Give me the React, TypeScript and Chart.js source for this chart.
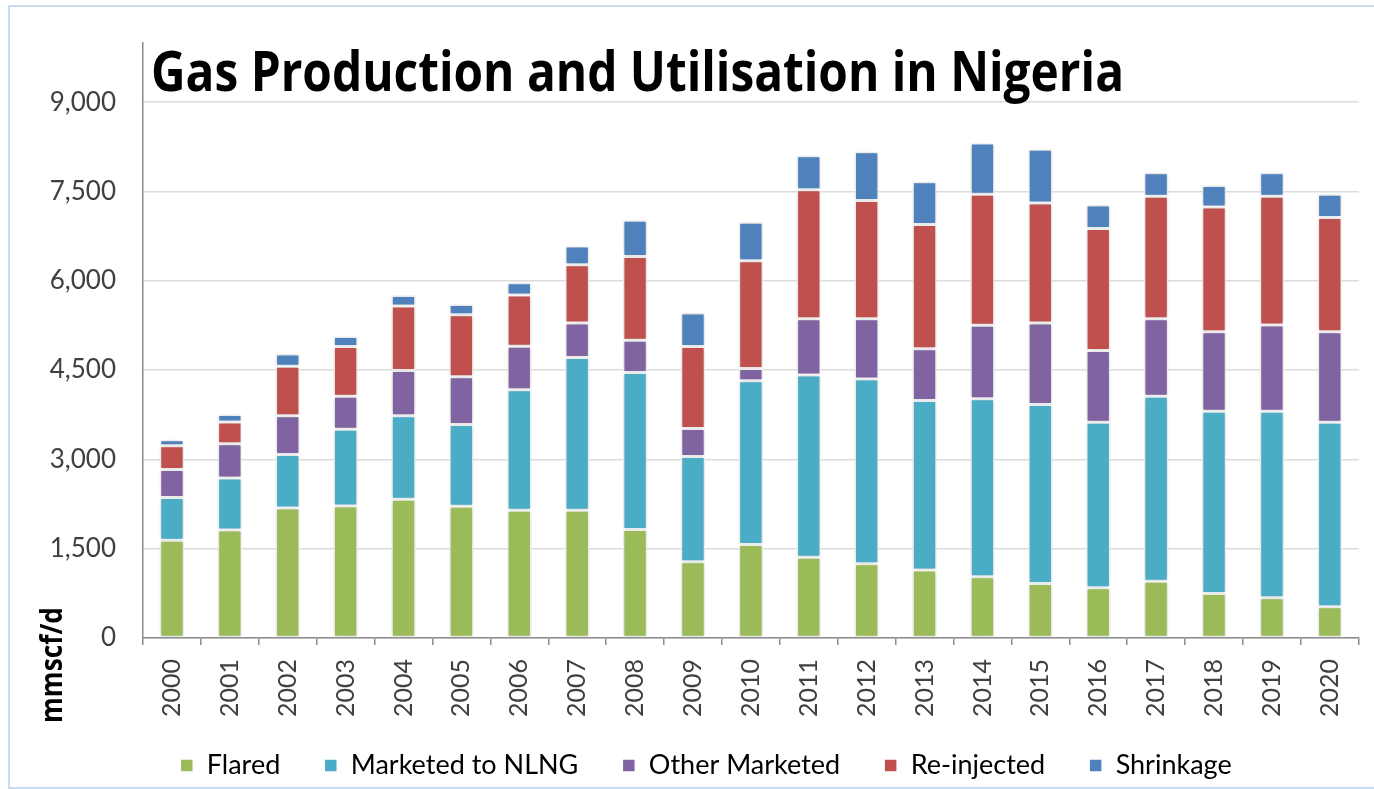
import React, { useEffect, useRef } from "react";
import { Chart, registerables } from "chart.js";

Chart.register(...registerables);

const years = ["2000","2001","2002","2003","2004","2005","2006","2007","2008","2009","2010","2011","2012","2013","2014","2015","2016","2017","2018","2019","2020"];
const flared = [1640, 1815, 2184, 2218, 2330, 2212, 2145, 2145, 1822, 1279, 1570, 1358, 1245, 1140, 1028, 916, 843, 955, 749, 676, 525];
const marketedNLNG = [720, 872, 900, 1290, 1402, 1375, 2023, 2565, 2636, 1771, 2749, 3061, 3107, 2849, 2989, 3006, 2782, 3106, 3061, 3134, 3100];
const otherMarketed = [470, 576, 648, 553, 760, 799, 731, 581, 542, 470, 206, 944, 1011, 871, 1234, 1369, 1202, 1302, 1335, 1447, 1520];
const reinjected = [400, 363, 832, 833, 1084, 1044, 861, 977, 1408, 1374, 1810, 2167, 1983, 2084, 2202, 2016, 2050, 2057, 2095, 2163, 1916];
const shrinkage = [100, 128, 207, 168, 178, 173, 207, 314, 609, 565, 649, 570, 821, 721, 860, 900, 397, 395, 358, 395, 392];

const yTickValues = [0, 1500, 3000, 4500, 6000, 7500, 9000];
const seriesNames = ["Flared", "Marketed to NLNG", "Other Marketed", "Re-injected", "Shrinkage"];
const seriesColors = ["#9BBB59", "#4BACC6", "#8064A2", "#C0504D", "#4F81BD"];
const chartTitle = "Gas Production and Utilisation in Nigeria";
const yAxisTitle = "mmscf/d";

const W = 1374;
const H = 789;

const decorPlugin = {
  id: "decor",
  afterLayout(chart: any) {
    const lg = chart.legend;
    if (lg) {
      lg.left += 23;
      lg.right += 23;
      lg.top -= 20;
    }
  },
  beforeDatasetsDraw(chart: any) {
    const ctx = chart.ctx;
    ctx.save();
    ctx.shadowColor = "rgba(0,0,0,0.22)";
    ctx.shadowBlur = 4;
    ctx.shadowOffsetX = 0;
    ctx.shadowOffsetY = 0;
  },
  afterDatasetsDraw(chart: any) {
    chart.ctx.restore();
  },
  afterDraw(chart: any) {
    const ctx = chart.ctx;
    // frame
    ctx.save();
    ctx.strokeStyle = "#B9CFEB";
    ctx.lineWidth = 1.5;
    ctx.beginPath();
    ctx.moveTo(W + 5, 6);
    ctx.lineTo(9, 6);
    ctx.lineTo(9, 788);
    ctx.lineTo(W + 5, 788);
    ctx.stroke();
    ctx.restore();

    // title
    ctx.save();
    ctx.font = "bold 56px 'Open Sans'";
    ctx.fillStyle = "#000";
    ctx.textBaseline = "alphabetic";
    ctx.textAlign = "left";
    const tw = ctx.measureText(chartTitle).width;
    const sx = 973 / tw;
    ctx.translate(151, 91);
    ctx.scale(sx, 1);
    ctx.fillText(chartTitle, 0, 0);
    ctx.restore();

    // y axis title
    ctx.save();
    ctx.font = "bold 31px 'Open Sans'";
    ctx.fillStyle = "#000";
    ctx.textBaseline = "alphabetic";
    ctx.textAlign = "center";
    const yw = ctx.measureText(yAxisTitle).width;
    ctx.translate(62, 665);
    ctx.rotate(-Math.PI / 2);
    ctx.scale(116 / yw, 1);
    ctx.fillText(yAxisTitle, 0, 0);
    ctx.restore();
  },
};

export default function App() {
  const canvasRef = useRef<HTMLCanvasElement | null>(null);

  useEffect(() => {
    document.body.style.margin = "0";
    const canvas = canvasRef.current;
    if (!canvas) return;
    const values = [flared, marketedNLNG, otherMarketed, reinjected, shrinkage];
    const chart = new Chart(canvas, {
      type: "bar",
      data: {
        labels: years,
        datasets: values.map((v, i) => ({
          label: seriesNames[i],
          data: v,
          backgroundColor: seriesColors[i],
          borderColor: "#FFFFFF",
          borderWidth: 1.5,
          borderSkipped: false,
          barPercentage: 0.42,
          categoryPercentage: 1,
        })),
      },
      options: {
        responsive: false,
        animation: false,
        devicePixelRatio: 1,
        layout: { padding: { top: 41, right: 8, bottom: 0, left: 0 } },
        plugins: {
          title: { display: false },
          tooltip: { enabled: false },
          legend: {
            display: true,
            position: "bottom",
            maxHeight: 61,
            labels: {
              boxWidth: 13,
              boxHeight: 13,
              padding: 44,
              color: "#000",
              font: { family: "Lato", size: 27 },
            },
          },
        },
        scales: {
          x: {
            stacked: true,
            afterFit: (s: any) => { s.height = 90; },
            grid: {
              display: true,
              drawOnChartArea: false,
              drawTicks: true,
              tickLength: 7,
              color: "#8C8C8C",
              lineWidth: 1.5,
              offset: true,
            },
            border: { display: true, color: "#8C8C8C", width: 1.5 },
            ticks: {
              minRotation: 90,
              maxRotation: 90,
              autoSkip: false,
              padding: 14,
              color: "#404040",
              font: { family: "Lato", size: 25 },
            },
          },
          y: {
            stacked: true,
            min: 0,
            max: 10000,
            afterFit: (s: any) => { s.width = 143; },
            afterBuildTicks: (s: any) => {
              s.ticks = yTickValues.map((v) => ({ value: v }));
            },
            grid: {
              display: true,
              drawTicks: false,
              color: "#DCDCDC",
              lineWidth: 1.5,
            },
            border: { display: true, color: "#8C8C8C", width: 1.5 },
            ticks: {
              padding: 27,
              color: "#404040",
              font: { family: "Lato", size: 26 },
              callback: (v: any) => Number(v).toLocaleString("en-US"),
            },
          },
        },
      },
      plugins: [decorPlugin],
    } as any);
    return () => chart.destroy();
  }, []);

  return (
    <div style={{ width: W, height: H, background: "#fff" }}>
      <canvas ref={canvasRef} width={W} height={H} style={{ display: "block" }} />
    </div>
  );
}
